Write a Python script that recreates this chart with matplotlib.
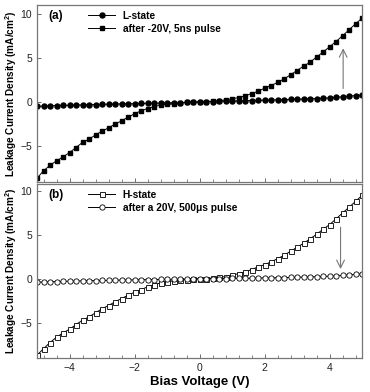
import matplotlib.pyplot as plt
from matplotlib.ticker import AutoMinorLocator, MultipleLocator

plt.rcParams['font.family'] = ['Liberation Sans', 'DejaVu Sans']
plt.rcParams['mathtext.fontset'] = 'custom'
plt.rcParams['mathtext.bf'] = 'Liberation Sans:bold'
plt.rcParams['mathtext.rm'] = 'Liberation Sans'

# bias voltage, -5 V .. 5 V in 0.2 V steps
voltage = [round(-5 + 0.2 * i, 1) for i in range(51)]

# (a) L-state and after -20V, 5ns pulse
l_state = [-0.52, -0.48, -0.45, -0.42, -0.40, -0.38, -0.36, -0.34, -0.32, -0.30,
           -0.28, -0.26, -0.25, -0.23, -0.22, -0.20, -0.18, -0.17, -0.15, -0.14,
           -0.12, -0.10, -0.08, -0.06, -0.03, 0.00, 0.02, 0.04, 0.06, 0.08,
           0.10, 0.11, 0.13, 0.15, 0.17, 0.19, 0.21, 0.23, 0.25, 0.27,
           0.30, 0.32, 0.35, 0.38, 0.42, 0.46, 0.52, 0.58, 0.64, 0.72, 0.80]
after_neg = [-8.67, -7.84, -7.20, -6.70, -6.25, -5.76, -5.19, -4.60, -4.24, -3.75,
             -3.33, -2.95, -2.53, -2.16, -1.74, -1.36, -1.02, -0.76, -0.53, -0.38,
             -0.28, -0.20, -0.13, -0.07, -0.03, 0.00, 0.03, 0.08, 0.14, 0.22,
             0.34, 0.49, 0.68, 0.94, 1.20, 1.55, 1.85, 2.20, 2.60, 3.07,
             3.56, 4.05, 4.50, 5.08, 5.65, 6.25, 6.85, 7.50, 8.18, 8.86, 9.50]

# (b) H-state and after a 20V, 500us pulse
h_state = [-8.68, -7.95, -7.24, -6.64, -6.14, -5.73, -5.20, -4.70, -4.32, -3.86,
           -3.40, -3.03, -2.61, -2.24, -1.86, -1.52, -1.22, -0.91, -0.68, -0.45,
           -0.32, -0.22, -0.14, -0.08, -0.03, 0.00, 0.04, 0.10, 0.17, 0.27,
           0.41, 0.60, 0.80, 1.06, 1.36, 1.62, 1.93, 2.30, 2.68, 3.14,
           3.60, 4.05, 4.55, 5.07, 5.64, 6.17, 6.82, 7.50, 8.14, 8.82, 9.50]
after_pos = [-0.38, -0.35, -0.32, -0.30, -0.28, -0.26, -0.24, -0.22, -0.21, -0.19,
             -0.18, -0.16, -0.15, -0.13, -0.12, -0.11, -0.09, -0.08, -0.07, -0.06,
             -0.05, -0.04, -0.03, -0.02, -0.01, 0.00, 0.01, 0.02, 0.03, 0.04,
             0.05, 0.06, 0.07, 0.08, 0.10, 0.11, 0.12, 0.14, 0.15, 0.17,
             0.19, 0.21, 0.23, 0.25, 0.28, 0.31, 0.35, 0.40, 0.45, 0.51, 0.57]

ylabel = r'Leakage Current Density (mA/cm$^\mathbf{2}$)'
W, H = 370, 392

fig = plt.figure(figsize=(3.7, 3.92), dpi=100)
ax1 = fig.add_axes([37 / W, 1 - 182 / H, 325 / W, 177 / H])
ax2 = fig.add_axes([37 / W, 1 - 358 / H, 325 / W, 174 / H])

def style(ax):
    ax.set_xlim(-5, 5)
    ax.xaxis.set_major_locator(MultipleLocator(2))
    ax.xaxis.set_minor_locator(AutoMinorLocator(5))
    ax.yaxis.set_major_locator(MultipleLocator(5))
    ax.tick_params(direction='in', labelsize=7.5, length=3, width=0.6,
                   color='#555555', labelcolor='#222222')
    ax.tick_params(which='minor', direction='in', length=2, width=0.5, color='#555555')
    for s in ax.spines.values():
        s.set_color('#777777')
        s.set_linewidth(0.9)
    ax.set_ylabel(ylabel, fontsize=7.2, fontweight='bold', labelpad=1)

# panel (a)
ax1.plot(voltage, l_state, '-o', color='black', ms=3.6, lw=0.7, label='L-state')
ax1.plot(voltage, after_neg, '-s', color='black', ms=3.4, lw=0.7,
         label='after -20V, 5ns pulse')
ax1.set_ylim(-9.1, 11)
style(ax1)
ax1.tick_params(labelbottom=False)
ax1.text(0.035, 0.97, '(a)', transform=ax1.transAxes, fontsize=8.5,
         fontweight='bold', va='top')
ax1.annotate('', xy=(4.42, 6.4), xytext=(4.42, 1.2),
             arrowprops=dict(arrowstyle='->', color='#777777', lw=0.8,
                             mutation_scale=14))
ax1.legend(loc='upper left', bbox_to_anchor=(0.13, 1.02), frameon=False,
           prop={'size': 7.3, 'weight': 'bold'}, handlelength=2.6,
           labelspacing=0.3, handletextpad=0.8)

# panel (b)
ax2.plot(voltage, h_state, '-s', color='black', mfc='white', mew=0.6,
         ms=3.6, lw=0.7, label='H-state')
ax2.plot(voltage, after_pos, '-o', color='black', mfc='white', mew=0.6,
         ms=3.8, lw=0.7, label='after a 20V, 500\u03bcs pulse')
ax2.set_ylim(-9.0, 10.8)
style(ax2)
ax2.text(0.035, 0.97, '(b)', transform=ax2.transAxes, fontsize=8.5,
         fontweight='bold', va='top')
ax2.annotate('', xy=(4.34, 0.8), xytext=(4.34, 6.2),
             arrowprops=dict(arrowstyle='->', color='#777777', lw=0.8,
                             mutation_scale=14))
ax2.legend(loc='upper left', bbox_to_anchor=(0.13, 1.02), frameon=False,
           prop={'size': 7.3, 'weight': 'bold'}, handlelength=2.6,
           labelspacing=0.3, handletextpad=0.8)
ax2.set_xlabel('Bias Voltage (V)', fontsize=9.5, fontweight='bold', labelpad=2)

fig.savefig('out.png', dpi=100)
